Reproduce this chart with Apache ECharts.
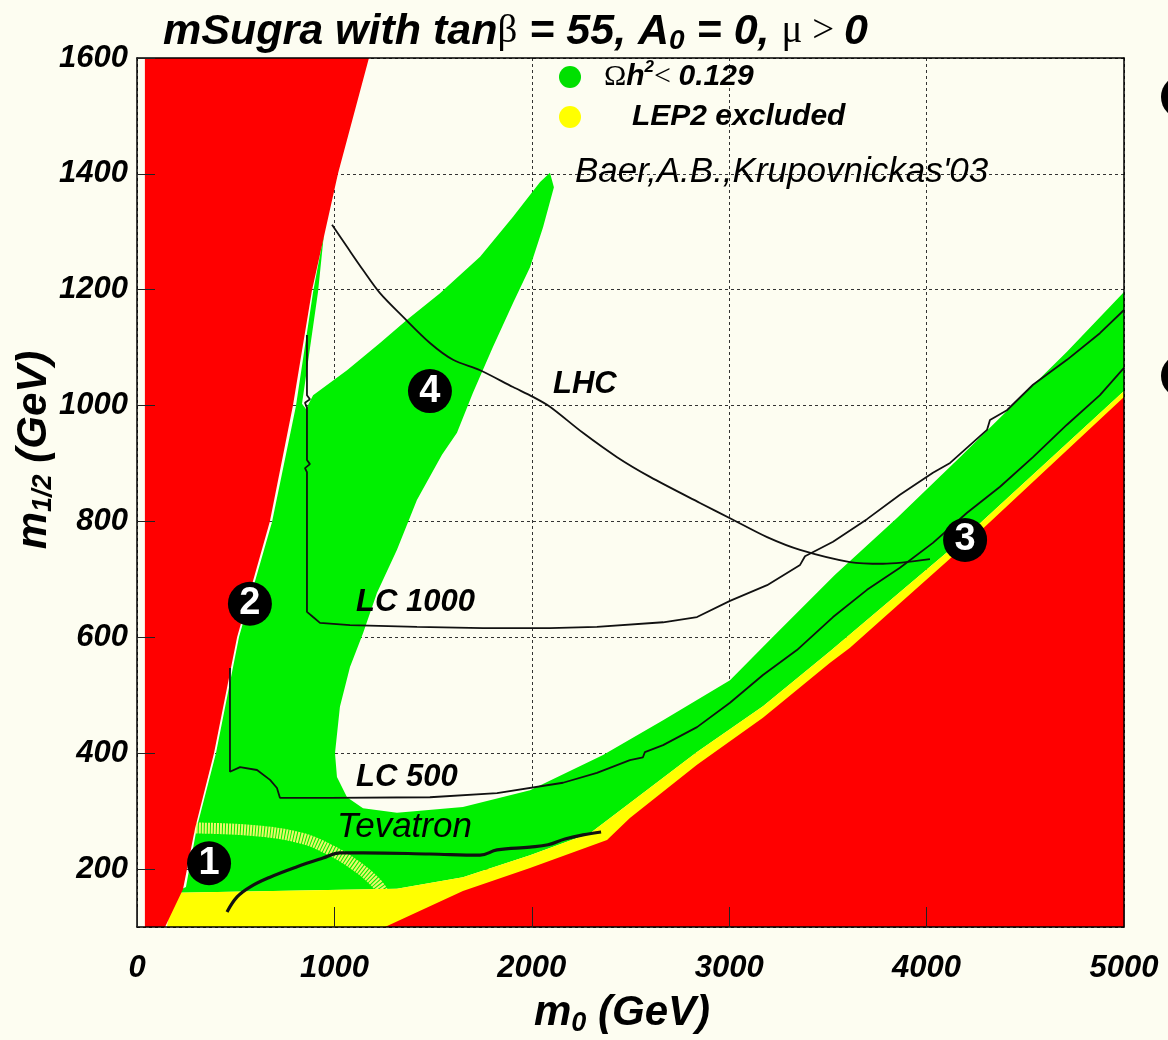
<!DOCTYPE html>
<html>
<head>
<meta charset="utf-8">
<script src="https://cdn.jsdelivr.net/npm/echarts@6/dist/echarts.min.js"></script>
<style>
html,body{margin:0;padding:0;background:#fdfdf1;}
#chart{width:1168px;height:1040px;}
</style>
</head>
<body>
<div id="chart"></div>
<script>
// ---------- data (m0 [GeV], m1/2 [GeV]) ----------
const xTickValues = [0, 1000, 2000, 3000, 4000, 5000];
const yTickValues = [200, 400, 600, 800, 1000, 1200, 1400, 1600];

// theoretically excluded (red) regions
const redLeft = [[40,100],[40,1600],[1175,1600],[1018,1400],[887,1200],[790,1000],[673,800],[507,600],[390,400],[294,270],[233,165],[142,100]];
const redRight = [[1256,100],[1651,162],[1991,202],[2381,250],[2497,288],[2837,380],[3171,461],[3511,556],[3612,582],[4195,759],[5000,1015],[5000,100]];

// LEP2 excluded (yellow)
const lep2 = [[152,100],[167,138],[198,159],[1317,166],[1651,186],[1991,224],[2295,262],[2497,314],[2837,402],[3171,481],[3511,576],[4195,773],[5000,1025],[5000,100]];
// hatched LEP2 Higgs band
const higgsArc = [[253,271],[572,267],[826,254],[978,233],[1104,207],[1206,178],[1256,155]];

// relic density allowed (green)
const relicOK = [[193,160],[248,169],[304,273],[400,400],[517,601],[684,799],[805,999],[892,1196],[947,1296],[917,1196],[836,1003],[856,994],[892,1018],[1064,1061],[1231,1108],[1368,1148],[1535,1194],[1738,1257],[1905,1326],[2042,1386],[2092,1402],[2112,1377],[2057,1308],[1991,1239],[1905,1177],[1803,1101],[1702,1022],[1621,953],[1545,915],[1418,837],[1317,751],[1216,677],[1145,607],[1079,549],[1028,480],[1003,400],[1013,359],[1064,324],[1145,305],[1317,297],[1651,307],[1991,336],[2361,397],[2665,457],[3004,526],[3222,601],[3536,708],[3850,806],[4169,911],[4372,979],[4711,1093],[5000,1196],[5000,1025],[4195,773],[3511,576],[3171,481],[2837,402],[2497,314],[2295,262],[1991,224],[1651,186],[1317,166],[198,159]];

// reach curves
const lhcReach = [[988,1312],[1064,1274],[1145,1234],[1231,1194],[1348,1153],[1484,1108],[1601,1079],[1738,1061],[1905,1032],[2006,1015],[2092,998],[2259,953],[2432,911],[2599,877],[2852,832],[3019,803],[3192,773],[3359,751],[3612,730],[3779,727],[4017,735]];
const lc1000Reach = [[861,1122],[861,1018],[876,1011],[851,1005],[861,996],[861,906],[876,899],[851,892],[861,885],[861,644],[892,635],[927,625],[1079,621],[1418,618],[1753,616],[2092,616],[2330,618],[2665,626],[2837,635],[3004,663],[3192,690],[3359,725],[3384,740],[3526,765],[3698,804],[3865,846],[4032,884],[4119,901],[4306,958],[4321,975],[4407,992],[4539,1036],[4711,1079],[4878,1125],[5000,1165]];
const lc500Reach = [[471,547],[471,368],[522,376],[608,371],[674,354],[709,340],[724,323],[978,323],[1484,324],[1824,331],[2158,349],[2330,366],[2497,388],[2563,393],[2573,402],[2665,414],[2837,445],[3004,487],[3171,535],[3343,578],[3526,635],[3698,682],[3865,720],[4032,763],[4205,815],[4372,860],[4539,911],[4711,967],[4878,1018],[5000,1065]];
const tevatronReach = [[456,126],[507,152],[572,169],[674,186],[811,204],[942,219],[1028,228],[1145,228],[1484,226],[1738,224],[1824,233],[1991,238],[2082,242],[2168,252],[2259,259],[2351,264]];

// numbered region markers
const regionLabels = ['1', '2', '3', '4'];
const regionM0 = [365, 572, 4195, 1484];
const regionM12 = [210, 658, 768, 1025];

// ---------- chart ----------
const FONT = 'Liberation Sans';
const chart = echarts.init(document.getElementById('chart'));

function area(name, pts, color, z) {
  return {
    type: 'custom', name: name, xAxisIndex: 1, yAxisIndex: 1, z: z, silent: true, clip: true,
    data: pts,
    renderItem: function (params, api) {
      if (params.dataIndex !== 0) return null;
      return { type: 'polygon', shape: { points: pts.map(function (p) { return api.coord(p); }) }, style: { fill: color } };
    }
  };
}
function curve(name, pts, width, smooth, z) {
  return {
    type: 'line', name: name, xAxisIndex: 1, yAxisIndex: 1, z: z, silent: true,
    data: pts, showSymbol: false, symbol: 'none', smooth: smooth,
    lineStyle: { color: '#111', width: width }
  };
}
function plain(v) { return String(v); }

const bi = { fontFamily: FONT, fontStyle: 'italic', fontWeight: 'bold', color: '#000' };
const gridRect = { left: 137, top: 58, width: 987, height: 869, outerBoundsMode: 'none', containLabel: false };
const dashed = { show: true, lineStyle: { type: [3, 3], color: '#333', width: 1 } };

const option = {
  backgroundColor: '#fdfdf1',
  animation: false,
  title: {
    text: '{b|mSugra with tan}{g|β}{b| = 55, A}{sub|0}{b| = 0, }{g|μ > }{b|0}',
    left: 158, top: 4,
    textStyle: {
      rich: {
        b: Object.assign({ fontSize: 43, lineHeight: 46 }, bi),
        g: { fontFamily: 'Liberation Serif', fontWeight: 'normal', fontStyle: 'normal', fontSize: 39, lineHeight: 46, color: '#000' },
        sub: Object.assign({ fontSize: 28, lineHeight: 12, verticalAlign: 'bottom' }, bi)
      }
    }
  },
  grid: [Object.assign({}, gridRect), Object.assign({}, gridRect)],
  xAxis: [
    { type: 'value', gridIndex: 0, min: 0, max: 5000, interval: 1000, z: 0,
      axisLine: { show: false }, axisTick: { show: false }, axisLabel: { show: false }, splitLine: dashed },
    { type: 'value', gridIndex: 1, position: 'bottom', min: 0, max: 5000, interval: 1000, z: 10,
      axisLine: { show: true, onZero: false, lineStyle: { color: '#000', width: 1.5 } },
      axisTick: { show: true, inside: true, length: 20, customValues: xTickValues, lineStyle: { color: '#222', width: 1 } },
      axisLabel: Object.assign({ show: true, customValues: xTickValues, formatter: plain, fontSize: 31, margin: 26 }, bi),
      splitLine: { show: false } },
    { type: 'value', gridIndex: 1, position: 'top', min: 0, max: 5000, z: 10,
      axisLine: { show: true, onZero: false, lineStyle: { color: '#000', width: 1.5 } },
      axisTick: { show: false }, axisLabel: { show: false }, splitLine: { show: false } }
  ],
  yAxis: [
    { type: 'value', gridIndex: 0, min: 100, max: 1600, splitNumber: 7, z: 0,
      axisLine: { show: false }, axisTick: { show: false }, axisLabel: { show: false }, splitLine: dashed },
    { type: 'value', gridIndex: 1, position: 'left', min: 100, max: 1600, splitNumber: 7, z: 10,
      axisLine: { show: true, onZero: false, lineStyle: { color: '#000', width: 1.5 } },
      axisTick: { show: true, inside: true, length: 18, customValues: yTickValues, lineStyle: { color: '#222', width: 1 } },
      axisLabel: Object.assign({ show: true, customValues: yTickValues, formatter: plain, fontSize: 31, margin: 9 }, bi),
      splitLine: { show: false } },
    { type: 'value', gridIndex: 1, position: 'right', min: 100, max: 1600, z: 10,
      axisLine: { show: true, onZero: false, lineStyle: { color: '#000', width: 1.5 } },
      axisTick: { show: false }, axisLabel: { show: false }, splitLine: { show: false } }
  ],
  series: [
    area('Ωh² < 0.129', relicOK, '#00f000', 2),
    {
      type: 'line', name: 'LEP2 Higgs', xAxisIndex: 1, yAxisIndex: 1, z: 3, silent: true,
      data: higgsArc, showSymbol: false, symbol: 'none', smooth: 0.4,
      lineStyle: { color: 'rgba(245,250,110,0.95)', width: 11, type: [2, 1] }
    },
    area('LEP2 excluded', lep2, '#ffff00', 4),
    area('excluded left', redLeft, '#ff0000', 5),
    area('excluded right', redRight, '#ff0000', 5),
    curve('LHC', lhcReach, 1.8, 0.3, 6),
    curve('LC 1000', lc1000Reach, 1.8, false, 6),
    curve('LC 500', lc500Reach, 1.8, false, 6),
    curve('Tevatron', tevatronReach, 3.2, 0.4, 6),
    {
      type: 'scatter', name: 'regions', xAxisIndex: 1, yAxisIndex: 1, z: 7, silent: true,
      symbol: 'circle', symbolSize: 44, itemStyle: { color: '#000', opacity: 1 },
      label: { show: true, position: 'inside', formatter: function (p) { return p.name; },
               color: '#fff', opacity: 1, fontSize: 38, fontWeight: 'bold', fontFamily: FONT },
      data: regionLabels.map(function (n, i) { return { name: n, value: [regionM0[i], regionM12[i]] }; })
    }
  ],
  graphic: [
    // legend
    { type: 'circle', shape: { cx: 570, cy: 77, r: 11 }, style: { fill: '#00e000' }, z: 20 },
    { type: 'text', x: 604, y: 77, z: 20, style: {
        text: '{g|Ω}{b|h}{sup|2}{g|< }{b|0.129}', verticalAlign: 'middle', align: 'left',
        rich: {
          g: { fontFamily: 'Liberation Serif', fontSize: 30, lineHeight: 36, fill: '#000' },
          b: { fontFamily: FONT, fontStyle: 'italic', fontWeight: 'bold', fontSize: 30, lineHeight: 36, fill: '#000' },
          sup: { fontFamily: FONT, fontStyle: 'italic', fontWeight: 'bold', fontSize: 17, lineHeight: 14, verticalAlign: 'top', fill: '#000' }
        } } },
    { type: 'circle', shape: { cx: 570, cy: 117, r: 11 }, style: { fill: '#ffff00' }, z: 20 },
    { type: 'text', x: 632, y: 117, z: 20, style: { text: 'LEP2 excluded', font: 'italic bold 30px "Liberation Sans"', fill: '#000', verticalAlign: 'middle', align: 'left' } },
    { type: 'text', x: 575, y: 172, z: 20, style: { text: "Baer,A.B.,Krupovnickas'03", font: 'italic 35px "Liberation Sans"', fill: '#000', verticalAlign: 'middle', align: 'left' } },
    // curve labels
    { type: 'text', x: 553, y: 384, z: 20, style: { text: 'LHC', font: 'italic bold 31px "Liberation Sans"', fill: '#000', verticalAlign: 'middle' } },
    { type: 'text', x: 356, y: 602, z: 20, style: { text: 'LC 1000', font: 'italic bold 31px "Liberation Sans"', fill: '#000', verticalAlign: 'middle' } },
    { type: 'text', x: 356, y: 777, z: 20, style: { text: 'LC 500', font: 'italic bold 31px "Liberation Sans"', fill: '#000', verticalAlign: 'middle' } },
    { type: 'text', x: 337, y: 827, z: 20, style: { text: 'Tevatron', font: 'italic 35px "Liberation Sans"', fill: '#000', verticalAlign: 'middle' } },
    // axis names
    { type: 'text', x: 622, y: 1013, z: 20, style: {
        text: '{m|m}{s|0}{m| (GeV)}', align: 'center', verticalAlign: 'middle',
        rich: {
          m: { fontFamily: FONT, fontStyle: 'italic', fontWeight: 'bold', fontSize: 42, lineHeight: 48, fill: '#000' },
          s: { fontFamily: FONT, fontStyle: 'italic', fontWeight: 'bold', fontSize: 27, lineHeight: 12, verticalAlign: 'bottom', fill: '#000' }
        } } },
    { type: 'text', x: 34, y: 450, rotation: Math.PI / 2, z: 20, style: {
        text: '{m|m}{s|1/2}{m| (GeV)}', align: 'center', verticalAlign: 'middle',
        rich: {
          m: { fontFamily: FONT, fontStyle: 'italic', fontWeight: 'bold', fontSize: 42, lineHeight: 46, fill: '#000' },
          s: { fontFamily: FONT, fontStyle: 'italic', fontWeight: 'bold', fontSize: 27, lineHeight: 12, verticalAlign: 'bottom', fill: '#000' }
        } } },
    // cut-off markers at the right edge of the slide
    { type: 'circle', shape: { cx: 1183, cy: 97, r: 22 }, style: { fill: '#000' }, z: 20 },
    { type: 'circle', shape: { cx: 1183, cy: 376, r: 22 }, style: { fill: '#000' }, z: 20 }
  ]
};
chart.setOption(option);
</script>
</body>
</html>
